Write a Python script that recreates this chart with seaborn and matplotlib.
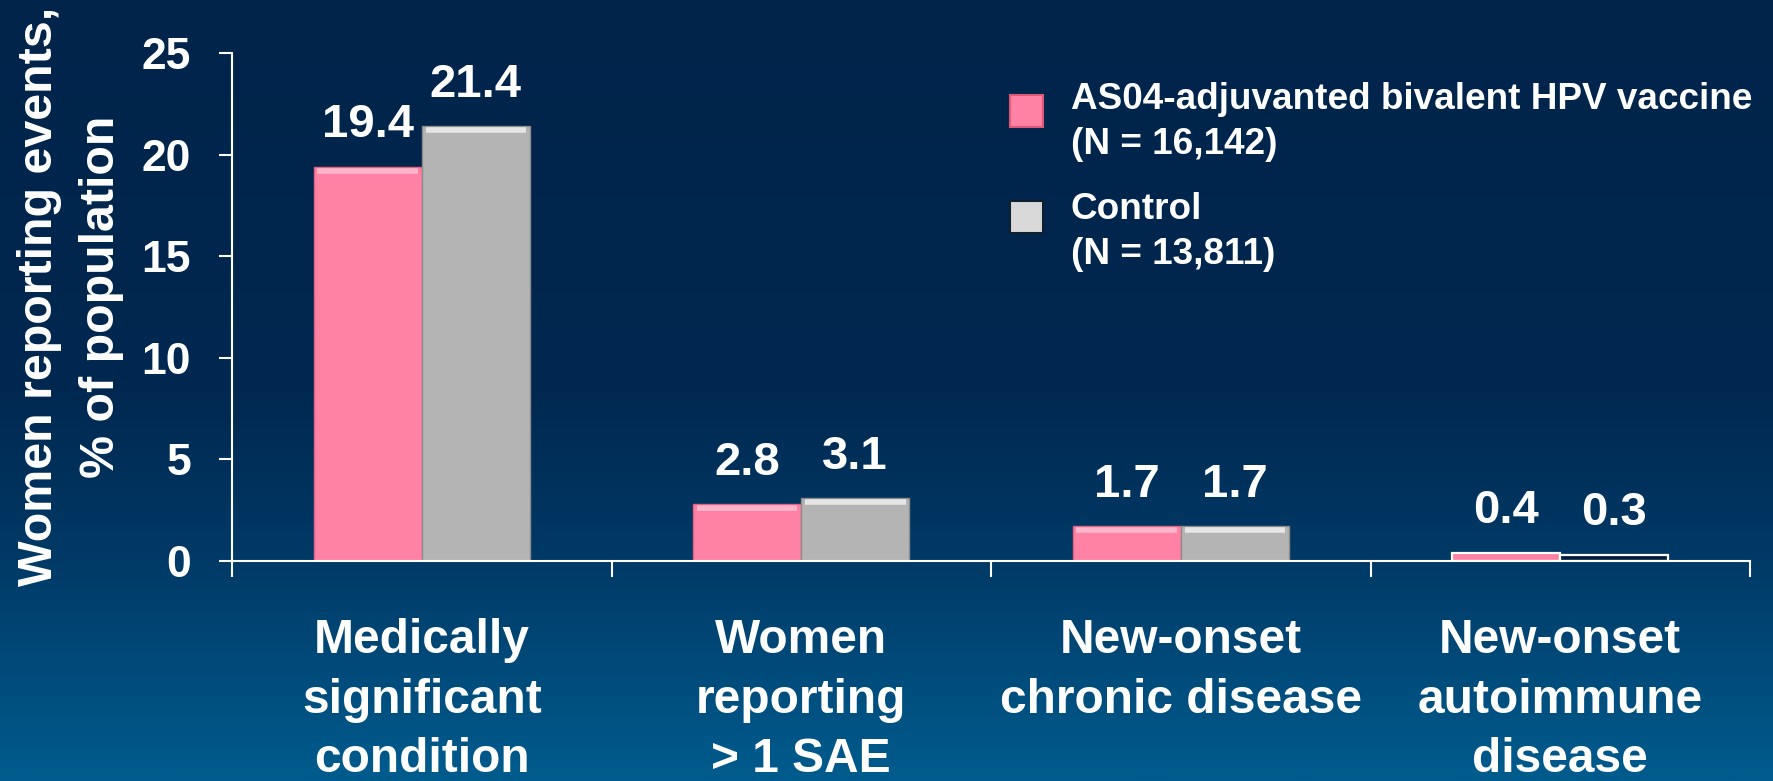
import numpy as np
import pandas as pd
import matplotlib
matplotlib.use("Agg")
import matplotlib.pyplot as plt
import matplotlib.transforms as mtransforms
from matplotlib.patches import Rectangle
import seaborn as sns

# ---- data -------------------------------------------------------------
categories = [
    "Medically\nsignificant\ncondition",
    "Women\nreporting\n> 1 SAE",
    "New-onset\nchronic disease",
    "New-onset\nautoimmune\ndisease",
]
groups = ["AS04-adjuvanted bivalent HPV vaccine\n(N = 16,142)", "Control\n(N = 13,811)"]
vaccine_pct = [19.4, 2.8, 1.7, 0.4]
control_pct = [21.4, 3.1, 1.7, 0.3]
y_ticks = [0, 5, 10, 15, 20, 25]
y_label = "Women reporting events,\n% of population"

# ---- styling ----------------------------------------------------------
W, H, DPI = 1773, 781, 100
PINK = "#FF82A5"
GREY = "#B4B4B4"
FONT = "Liberation Sans"

sns.set_style("white")
plt.rcParams["font.family"] = [FONT, "DejaVu Sans"]
plt.rcParams["font.weight"] = "bold"

df = pd.DataFrame({
    "category": categories * 2,
    "group": [groups[0]] * len(categories) + [groups[1]] * len(categories),
    "value": vaccine_pct + control_pct,
})

fig = plt.figure(figsize=(W / DPI, H / DPI), dpi=DPI)

# gradient slide background
bg = fig.add_axes([0, 0, 1, 1], zorder=-10)
stops = np.array([0.0, 0.5, 0.72, 1.0])
cols = np.array([[0, 36, 74], [0, 40, 80], [0, 58, 103], [0, 92, 142]]) / 255.0
yy = np.linspace(0, 1, 400)
grad = np.stack([np.interp(yy, stops, cols[:, i]) for i in range(3)], axis=-1)
bg.imshow(grad[:, None, :], aspect="auto", extent=[0, 1, 1, 0])
bg.set_axis_off()


def fx(x):
    return x / W


def fy(y):
    return 1 - y / H


# chart axes (pixel box: x 232..1750, y 53..561)
ax = fig.add_axes([fx(232), fy(561), (1750 - 232) / W, (561 - 53) / H])
ax.patch.set_alpha(0)

sns.barplot(
    data=df, x="category", y="value", hue="group",
    palette=[PINK, GREY], width=0.57, ax=ax, legend=False,
    edgecolor="none", linewidth=0, saturation=1,
)

# bar outlines and a light bevel along each bar top;
# the smallest pair is drawn as outlined boxes
n = len(categories)
bevel = mtransforms.offset_copy(ax.transData, fig=fig, y=-4, units="dots")
for i, p in enumerate(ax.patches[: 2 * n]):
    is_vac = i // n == 0
    p.set_edgecolor("#E8607F" if is_vac else "#8C8C8C")
    p.set_linewidth(1)
    if i % n != n - 1:
        x0, w, h = p.get_x(), p.get_width(), p.get_height()
        ax.plot([x0 + 0.01, x0 + w - 0.01], [h, h], transform=bevel,
                color="#FFB6CC" if is_vac else "#E6E6E6", lw=4,
                solid_capstyle="butt", zorder=3)
last_vac = ax.patches[n - 1]
last_ctl = ax.patches[2 * n - 1]
last_vac.set_edgecolor("white"); last_vac.set_linewidth(1.6)
last_ctl.set_facecolor("#001F3E"); last_ctl.set_edgecolor("white"); last_ctl.set_linewidth(1.6)

# value labels
for container in ax.containers:
    ax.bar_label(container, fmt="%.1f", padding=14, color="white",
                 fontsize=34, fontweight="bold")

ax.set_xlim(-0.5, n - 0.5)
ax.set_ylim(0, 25)
ax.set_yticks(y_ticks)
ax.set_yticklabels([str(t) for t in y_ticks])
ax.tick_params(axis="y", colors="white", labelcolor="white", labelsize=32,
               direction="out", length=9.5, width=1.5, pad=20, left=True)

ax.set_xticks(np.arange(-0.5, n, 1.0))
ax.set_xticklabels([])
ax.tick_params(axis="x", which="major", colors="white", direction="out",
               length=11.5, width=1.5, bottom=True)
ax.set_xticks(np.arange(n), minor=True)
ax.set_xticklabels(categories, minor=True, fontsize=34.5, fontweight="bold",
                   color="white", linespacing=1.42)
ax.tick_params(axis="x", which="minor", length=0, pad=41)
ax.set_xlabel("")

ax.set_ylabel(y_label, color="white", fontsize=34.8, fontweight="bold",
              linespacing=1.48)
ax.yaxis.set_label_coords(-0.0711, 0.52)

for side in ("top", "right"):
    ax.spines[side].set_visible(False)
for side in ("left", "bottom"):
    ax.spines[side].set_color("white")
    ax.spines[side].set_linewidth(1.5)

# legend
legend_rows = [
    (PINK, "#E05878", 95, [("AS04-adjuvanted bivalent HPV vaccine", 109), ("(N = 16,142)", 154)]),
    ("#D9D9D9", "#10202E", 201, [("Control", 219), ("(N = 13,811)", 264)]),
]
for face, edge, top, lines in legend_rows:
    fig.patches.append(Rectangle((fx(1010), fy(top + 32)), 33 / W, 32 / H,
                                 transform=fig.transFigure, facecolor=face,
                                 edgecolor=edge, linewidth=1.5))
    for txt, base in lines:
        fig.text(fx(1071), fy(base), txt, color="white", fontsize=26.6,
                 fontweight="bold", va="baseline", ha="left")

fig.savefig("out.png", dpi=DPI)
